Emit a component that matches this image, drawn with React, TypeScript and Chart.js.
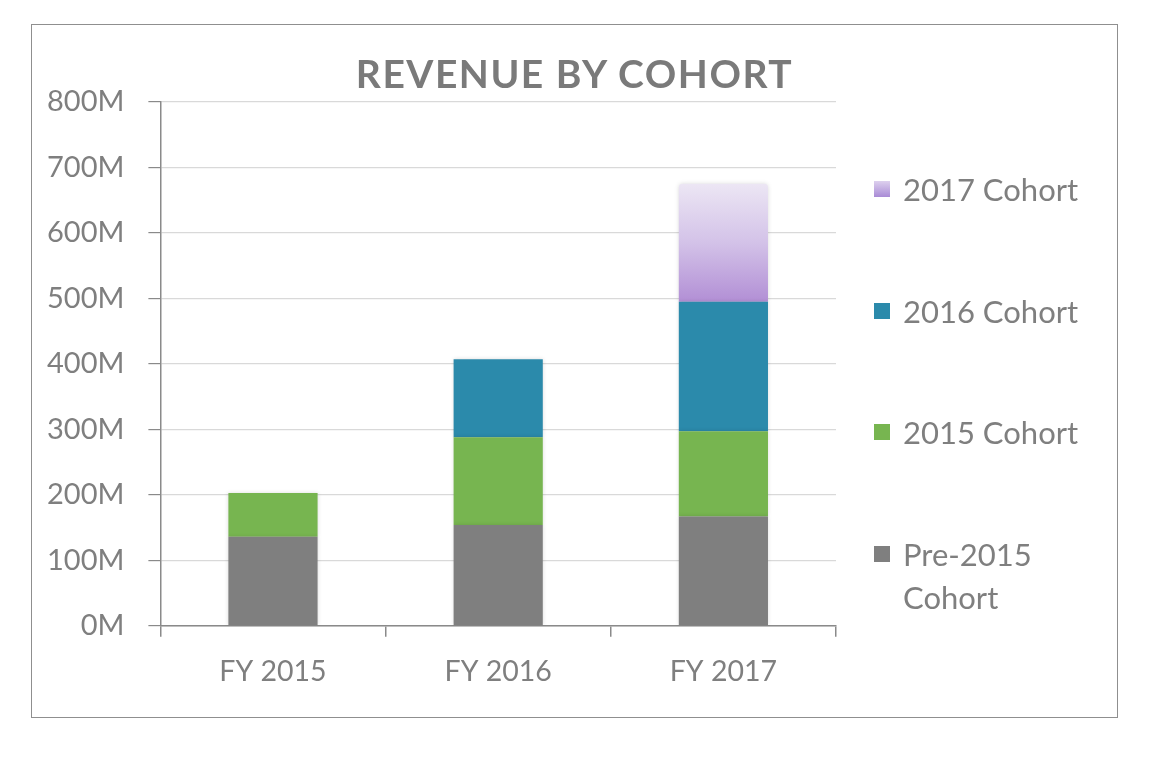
import React, { useEffect, useRef } from "react";
import { Chart, registerables } from "chart.js";

Chart.register(...registerables);

const categories = ["FY 2015", "FY 2016", "FY 2017"];
const pre2015 = [136, 154, 167];
const cohort2015 = [67, 134, 130];
const cohort2016 = [null, 119, 198];
const cohort2017 = [null, null, 180];
const yTickValues = [0, 100, 200, 300, 400, 500, 600, 700, 800];
const seriesNames = ["Pre-2015 Cohort", "2015 Cohort", "2016 Cohort", "2017 Cohort"];
const seriesColors = ["#7f7f7f", "#77b550", "#2b8aab", "#b894d8"];
const chartTitle = "REVENUE BY COHORT";

const FONT = "Lato, 'Open Sans', sans-serif";
const TEXT = "#7f7f7f";

function purpleGradient(ctx: any) {
  const chart = ctx.chart;
  const { chartArea, scales } = chart;
  if (!chartArea || !scales || !scales.y) return "#c8b0e2";
  const i = ctx.dataIndex ?? 2;
  const base =
    (pre2015[i] || 0) + (cohort2015[i] || 0) + (cohort2016[i] || 0);
  const top = base + (cohort2017[i] || 0);
  const y0 = scales.y.getPixelForValue(base);
  const y1 = scales.y.getPixelForValue(top);
  const g = chart.ctx.createLinearGradient(0, y0, 0, y1);
  g.addColorStop(0, "#b28fd5");
  g.addColorStop(0.5, "#d3c2e8");
  g.addColorStop(1, "#ece6f4");
  return g;
}

const shadowPlugin = {
  id: "barShadow",
  beforeDatasetsDraw(chart: any) {
    const c = chart.ctx;
    c.save();
    c.shadowColor = "rgba(0,0,0,0.14)";
    c.shadowBlur = 4;
    c.shadowOffsetX = 0;
    c.shadowOffsetY = 0;
  },
  afterDatasetsDraw(chart: any) {
    chart.ctx.restore();
  },
};

export default function App() {
  const ref = useRef<HTMLCanvasElement | null>(null);

  useEffect(() => {
    if (!ref.current) return;
    const chart = new Chart(ref.current, {
      type: "bar",
      data: {
        labels: categories,
        datasets: [
          { label: seriesNames[0], data: pre2015, backgroundColor: seriesColors[0] },
          { label: seriesNames[1], data: cohort2015, backgroundColor: seriesColors[1] },
          { label: seriesNames[2], data: cohort2016, backgroundColor: seriesColors[2] },
          {
            label: seriesNames[3],
            data: cohort2017,
            backgroundColor: purpleGradient,
            borderRadius: { topLeft: 4, topRight: 4, bottomLeft: 0, bottomRight: 0 },
            borderSkipped: false,
          },
        ] as any,
      },
      plugins: [shadowPlugin],
      options: {
        animation: false,
        responsive: false,
        maintainAspectRatio: false,
        datasets: { bar: { barPercentage: 0.396, categoryPercentage: 1 } } as any,
        layout: { padding: { left: -9, right: 281, top: 77, bottom: 10 } },
        plugins: {
          legend: { display: false },
          tooltip: { enabled: false },
          title: { display: false },
        },
        scales: {
          x: {
            stacked: true,
            grid: {
              offset: true,
              drawOnChartArea: false,
              tickLength: 11,
              tickColor: "#8a8a8a",
              lineWidth: 1.5,
            },
            border: { color: "#8a8a8a", width: 1.5 },
            ticks: {
              color: TEXT,
              font: { family: FONT, size: 28.5 },
              padding: 18,
            },
          },
          y: {
            stacked: true,
            min: 0,
            max: 800,
            afterBuildTicks: (scale: any) => {
              scale.ticks = yTickValues.map((v) => ({ value: v }));
            },
            grid: {
              color: "#d9d9d9",
              lineWidth: 1.2,
              tickLength: 12,
              tickColor: "#8a8a8a",
            },
            border: { color: "#8a8a8a", width: 1.5 },
            ticks: {
              color: TEXT,
              font: { family: FONT, size: 29 },
              padding: 24,
              callback: (v: any) => `${v}M`,
            },
          },
        },
      },
    });
    return () => chart.destroy();
  }, []);

  const legendOrder = [3, 2, 1, 0];
  const legendTops = [168, 290, 411, 533];

  return (
    <div style={{ position: "fixed", left: 0, top: 0, width: 1165, height: 757, background: "#fff" }}>
      <div
        style={{
          position: "absolute",
          left: 31,
          top: 24,
          width: 1087,
          height: 694,
          border: "1px solid #8f8f8f",
          boxSizing: "border-box",
        }}
      >
        <canvas ref={ref} width={1085} height={692} style={{ display: "block" }} />
      </div>
      <div
        style={{
          position: "absolute",
          left: 31,
          top: 50,
          width: 1087,
          textAlign: "center",
          fontFamily: FONT,
          fontWeight: "bold",
          fontSize: 39,
          letterSpacing: 1.5,
          lineHeight: "46px",
          color: "#7a7a7a",
        }}
      >
        {chartTitle}
      </div>
      {legendOrder.map((idx, k) => (
        <div
          key={idx}
          style={{
            position: "absolute",
            left: 874,
            top: legendTops[k],
            display: "flex",
            alignItems: "flex-start",
            fontFamily: FONT,
            fontSize: 31,
            lineHeight: "43px",
            color: TEXT,
          }}
        >
          <div
            style={{
              width: 16,
              height: 16,
              marginTop: 13,
              marginRight: 13,
              background:
                idx === 3
                  ? "linear-gradient(to bottom, #ddd0ee, #a98bd6)"
                  : seriesColors[idx],
            }}
          />
          <div style={{ width: 200 }}>
            {idx === 0 ? (
              <>
                Pre-2015
                <br />
                Cohort
              </>
            ) : (
              seriesNames[idx]
            )}
          </div>
        </div>
      ))}
    </div>
  );
}
